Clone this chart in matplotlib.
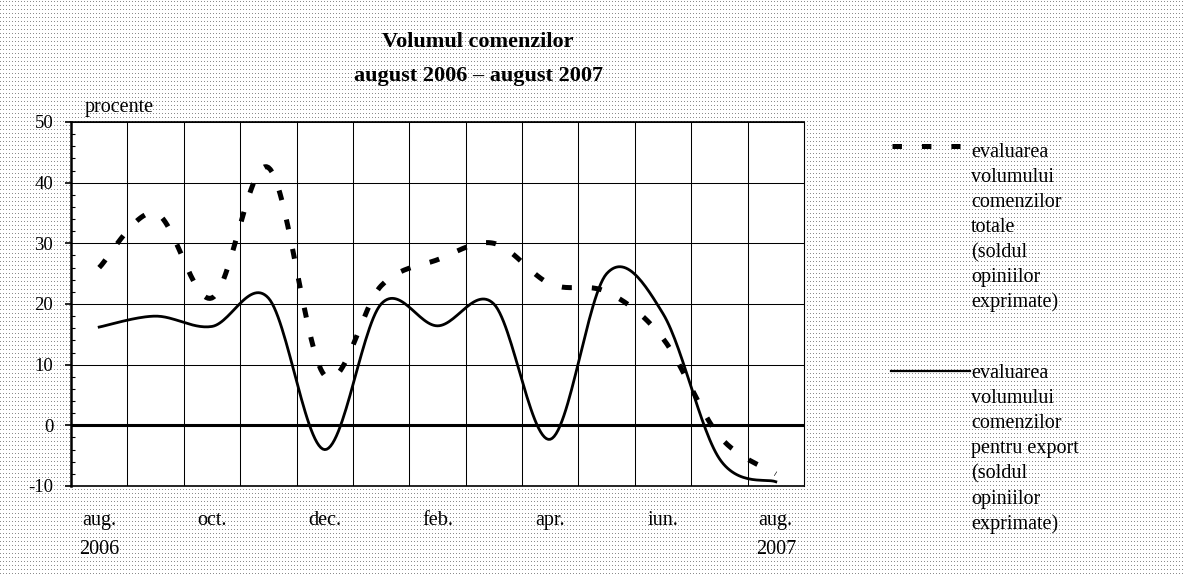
import numpy as np
import matplotlib
matplotlib.use('Agg')
import matplotlib.pyplot as plt
from matplotlib.lines import Line2D
from matplotlib.ticker import MultipleLocator

plt.rcParams['font.family'] = 'Liberation Serif'
plt.rcParams['axes.unicode_minus'] = False
plt.rcParams['lines.scale_dashes'] = False

# date (procente)
luni = ['aug.', 'sep.', 'oct.', 'nov.', 'dec.', 'ian.', 'feb.', 'mar.', 'apr.', 'mai', 'iun.', 'iul.', 'aug.']
etichete_x = ['aug.\n2006', 'oct.', 'dec.', 'feb.', 'apr.', 'iun.', 'aug.\n2007']
total = [26, 35, 21, 42.5, 8.2, 23, 27.3, 30, 23.3, 22, 14.3, -1.8, -8]
export = [16.2, 18, 16.3, 21, -4, 20, 16.4, 20, -2.3, 25, 18.4, -5.5, -9.3]

leg_total = ['evaluarea', 'volumului', 'comenzilor', 'totale', '(soldul', 'opiniilor', 'exprimate)']
leg_export = ['evaluarea', 'volumului', 'comenzilor', 'pentru export', '(soldul', 'opiniilor', 'exprimate)']

W, H = 1185, 577


def neted(xs, ys, n=30):
    # linie netezita ca in Excel (bezier prin puncte)
    pts = np.column_stack([xs, ys]).astype(float)
    m = len(pts)
    out = []
    t = np.linspace(0, 1, n)[:, None]
    for i in range(m - 1):
        p0 = pts[i - 1] if i > 0 else pts[i]
        p1 = pts[i]
        p2 = pts[i + 1]
        p3 = pts[i + 2] if i + 2 < m else pts[i + 1]
        c1 = p1 + (p2 - p0) / 6
        c2 = p2 - (p3 - p1) / 6
        seg = (1 - t)**3 * p1 + 3 * (1 - t)**2 * t * c1 + 3 * (1 - t) * t**2 * c2 + t**3 * p2
        out.append(seg if i == 0 else seg[1:])
    return np.vstack(out)


def fx(px):
    return px / W


def fy(py):
    return 1 - py / H


fig = plt.figure(figsize=(W / 100, H / 100), dpi=100)

# fundal punctat
yy, xx = np.mgrid[0:H, 0:W]
bg = np.ones((H, W, 3))
bg[(yy % 4 == 1) & (xx % 3 == 0)] = 0.55
fig.figimage(bg, 0, 0, zorder=-1, origin='upper')

ax = fig.add_axes([fx(71), fy(486), (804 - 71) / W, (486 - 122) / H])
ax.set_facecolor('white')

x = np.arange(len(luni))
ct = neted(x, total)
ce = neted(x, export)
ax.plot(ce[:, 0], ce[:, 1], color='black', lw=2.0, zorder=3)
ax.plot(ct[:, 0], ct[:, 1], color='black', lw=3.6, dashes=(7.2, 14.4), dash_capstyle='butt', zorder=4)
ax.axhline(0, color='black', lw=2.2, zorder=2)

ax.set_xlim(-0.5, len(luni) - 0.5)
ax.set_ylim(-10, 50)
ax.set_yticks(np.arange(-10, 51, 10))
ax.yaxis.set_minor_locator(MultipleLocator(2))
ax.set_xticks(x[::2])
ax.set_xticklabels(etichete_x)
ax.set_xticks(np.arange(0.5, len(luni) - 1, 1), minor=True)
for lab in ax.get_xticklabels():
    lab.set_linespacing(1.65)

ax.tick_params(axis='x', which='both', length=0, pad=18.3, labelsize=14.5)
ax.tick_params(axis='y', which='major', direction='out', length=4.3, width=1.2, pad=8.5, labelsize=13.5)
ax.tick_params(axis='y', which='minor', direction='in', length=3, width=0.8)

ax.grid(True, axis='y', which='major', color='black', lw=0.75)
ax.grid(True, axis='x', which='minor', color='black', lw=0.75)

ax.spines['left'].set_linewidth(1.8)
ax.spines['top'].set_linewidth(1.2)
ax.spines['bottom'].set_linewidth(1.2)
ax.spines['right'].set_linewidth(0.8)

# titlu
fig.text(fx(478), fy(47), 'Volumul comenzilor', ha='center', va='baseline', fontsize=16, fontweight='bold')
fig.text(fx(478), fy(80.7), 'august 2006 \u2013 august 2007', ha='center', va='baseline', fontsize=16, fontweight='bold')
fig.text(fx(85), fy(112), 'procente', va='baseline', fontsize=14.5)

# legenda
fig.add_artist(Line2D([fx(892), fx(960)], [fy(146), fy(146)], color='black', lw=3.6,
                      dashes=(6.8, 14.4), dash_capstyle='butt'))
fig.add_artist(Line2D([fx(891), fx(970)], [fy(371), fy(371)], color='black', lw=1.6))
for i, s in enumerate(leg_total):
    fig.text(fx(971), fy(157 + 25 * i), s, va='baseline', fontsize=14.5)
for i, s in enumerate(leg_export):
    fig.text(fx(971), fy(377.5 + 25.3 * i), s, va='baseline', fontsize=14.5)

fig.savefig('out.png', dpi=100)
